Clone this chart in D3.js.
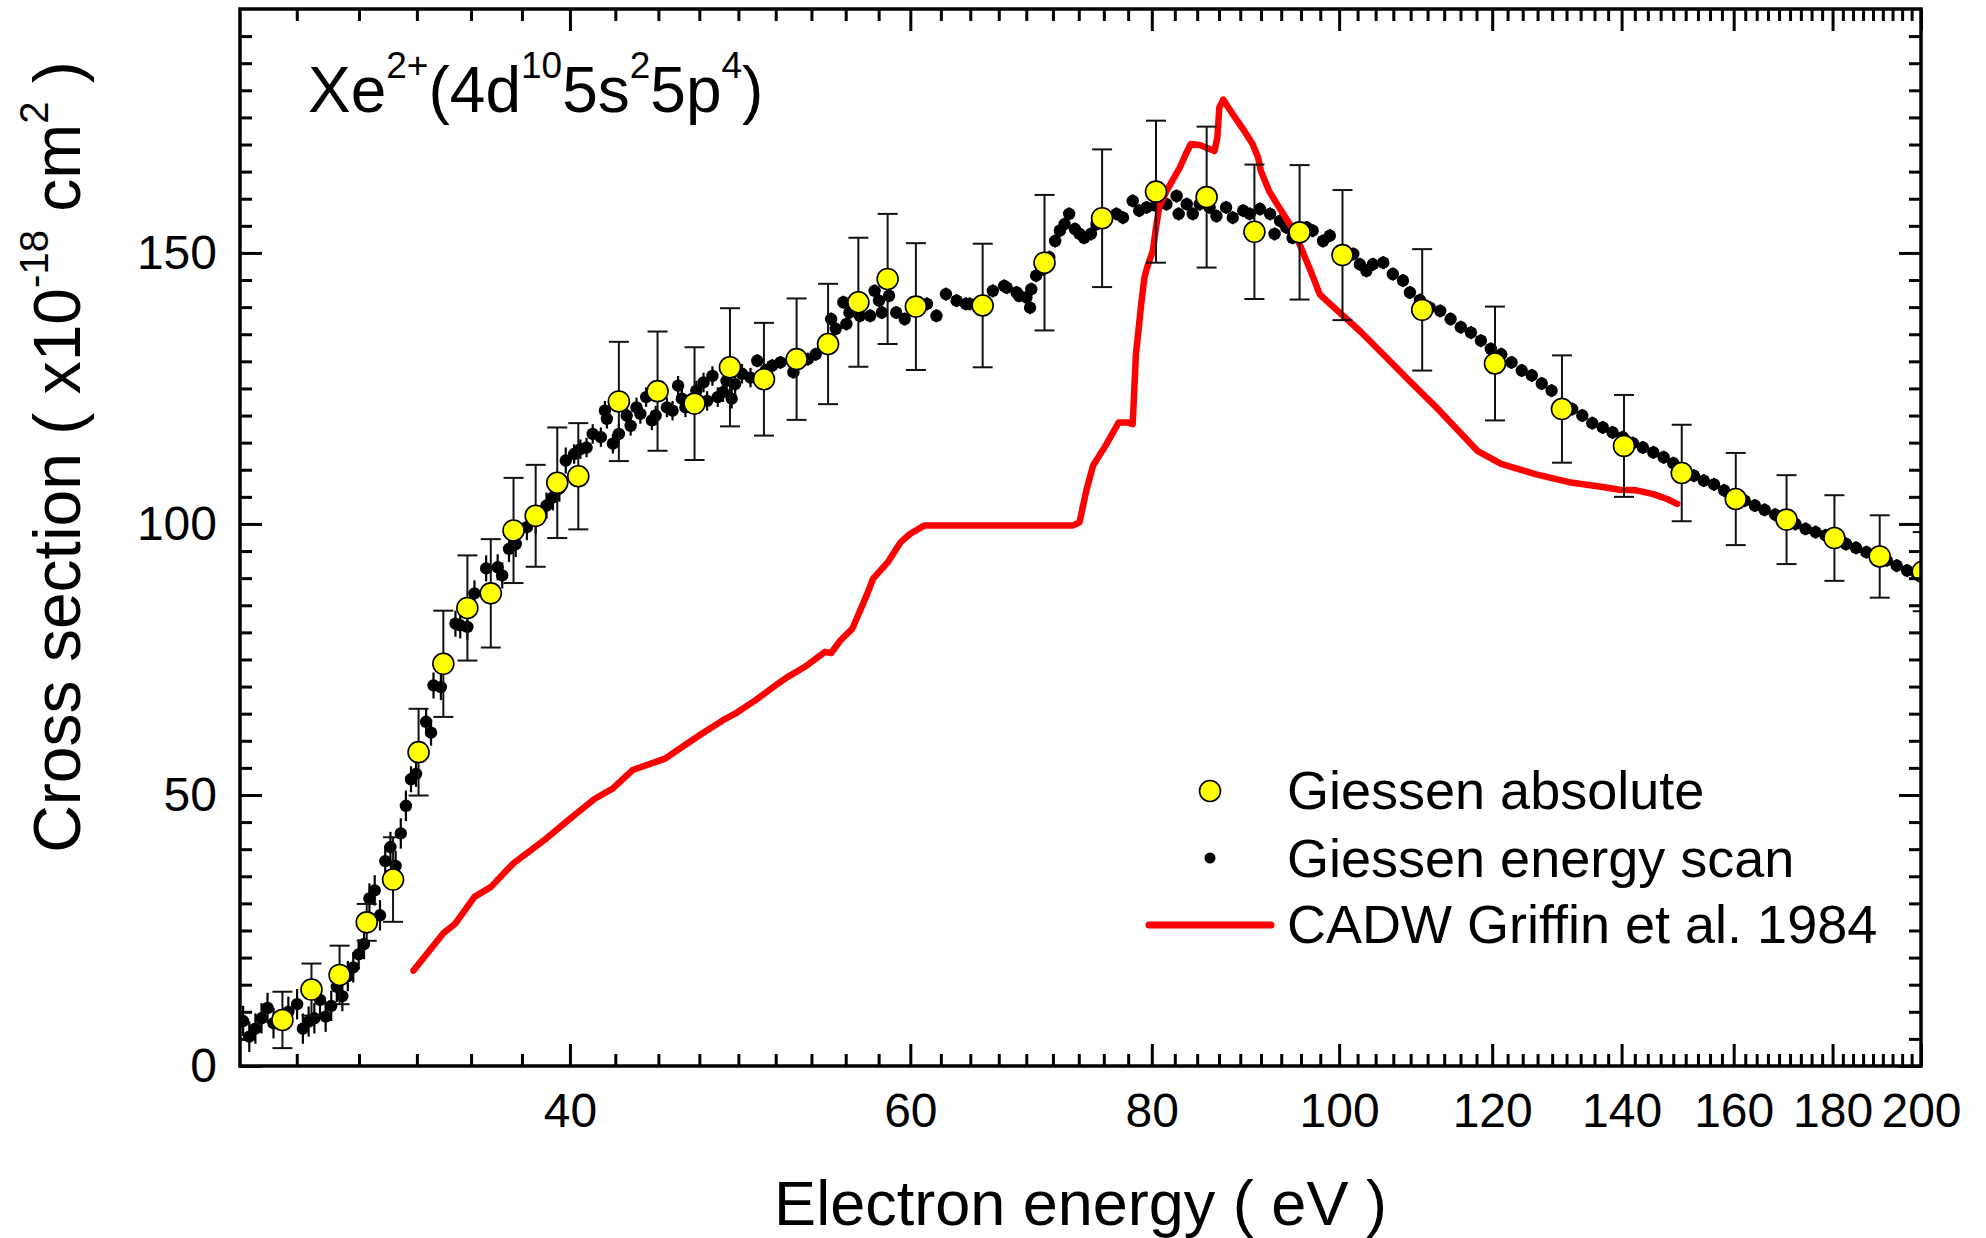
<!DOCTYPE html>
<html><head><meta charset="utf-8">
<script src="https://cdn.jsdelivr.net/npm/d3@7"></script>
<style>
html,body{margin:0;padding:0;background:#fff;}
svg{display:block;}
text{font-family:"Liberation Sans",Arial,Helvetica,sans-serif;fill:#000;}
</style></head><body>
<svg id="chart" width="1986" height="1238"></svg>
<script>
// ---------------- data ----------------
const xDomain = [27, 200];
const yDomain = [0, 195];
const xMajorTicks = [40, 60, 80, 100, 120, 140, 160, 180, 200];
const yMajorTicks = [0, 50, 100, 150];

// Giessen absolute (yellow circles)
const absE = [28.4,29.4,30.4,31.4,32.4,33.4,34.4,35.4,36.4,37.4,38.4,39.4,40.4,
  42.4,44.4,46.4,48.4,50.4,52.4,54.4,56.4,58.4,60.4,
  65.4,70.4,75.4,80.4,85.4,90.4,95.4,100.4,
  110.4,120.4,130.4,140.4,150.4,160.4,170.4,180.4,190.4,200.4];
const absV = [8.5,14.1,16.8,26.5,34.4,57.9,74.2,84.5,87.2,98.8,101.5,107.6,108.8,
  122.6,124.5,122.2,128.9,126.7,130.4,133.2,140.9,145.2,140.1,
  140.3,148.2,156.4,161.3,160.3,153.9,153.8,149.6,
  139.5,129.6,121.2,114.4,109.4,104.6,100.8,97.4,94.0,91.2];
const absErr = [5.2,4.8,5.4,3.4,7.8,8.0,9.8,9.7,10.0,9.7,9.4,10.2,9.8,
  11.0,11.0,10.4,10.9,10.4,11.2,11.1,11.9,12.0,11.7,
  11.4,12.5,12.7,13.1,13.0,12.4,12.4,12.0,
  11.2,10.5,9.9,9.4,8.9,8.5,8.2,7.9,7.6,7.3];

// Giessen energy scan (black dots): [energy, cross section]
const scan = [
 [27.1,8.3],[27.3,5.4],[27.5,6.9],[27.7,8.8],[27.9,10.7],[28.1,7.9],[28.6,10.0],[28.9,11.4],
 [29.1,6.9],[29.3,8.2],[29.5,8.8],[29.7,12.2],[29.9,9.1],[30.1,11.1],[30.3,14.6],[30.5,12.9],
 [30.7,16.6],[30.9,18.2],[31.1,20.6],[31.3,22.5],[31.5,30.9],[31.7,32.4],[31.9,27.8],[32.1,37.8],
 [32.3,40.4],[32.5,36.9],[32.7,42.9],[32.9,48.0],[33.1,52.9],[33.3,53.9],[33.7,63.5],[33.9,61.5],
 [34.0,70.2],[34.3,69.9],[34.9,81.6],[35.1,81.3],[35.4,81.0],[35.7,87.2],[36.2,91.8],[36.7,92.0],
 [36.9,90.5],[37.2,95.4],[37.5,96.3],[38.0,99.4],[38.4,100.6],[38.9,103.4],[39.2,104.9],[39.5,106.5],
 [39.8,111.7],[40.2,112.9],[40.5,113.8],[40.8,114.1],[41.1,116.6],[41.5,116.0],[41.7,120.9],[41.8,119.4],
 [42.1,114.8],[42.4,116.6],[42.8,120.0],[43.0,118.1],[43.3,121.5],[43.5,120.3],[43.8,123.4],[44.1,119.1],
 [44.3,120.0],[44.9,121.5],[45.2,120.9],[45.5,125.5],[45.7,123.1],[45.9,121.5],[46.5,124.6],[46.9,126.1],
 [47.1,122.7],[47.4,127.3],[47.7,123.4],[48.0,124.3],[48.2,126.4],[48.5,123.1],[48.7,125.8],[49.1,127.7],
 [49.6,127.0],[50.0,130.1],[50.5,128.3],[50.9,129.2],[51.4,129.8],[52.2,128.0],[52.6,130.1],[53.1,130.4],
 [53.6,131.3],[54.1,132.6],[54.6,137.8],[54.9,136.0],[55.4,140.9],[55.6,136.9],[55.8,139.0],[56.5,138.4],
 [57.2,138.4],[57.5,143.0],[57.8,141.2],[58.0,139.0],[58.5,142.1],[59.0,139.0],[59.6,137.8],[60.2,140.3],
 [61.2,140.6],[61.9,138.4],[62.6,142.4],[63.4,141.2],[64.1,140.6],[64.4,140.6],[66.2,143.0],[67.1,143.9],
 [67.3,143.6],[68.1,142.7],[68.3,142.1],[68.9,141.8],[69.2,139.9],[69.3,143.3],[69.7,145.8],[70.3,147.0],
 [70.8,149.2],[71.3,152.2],[71.7,154.1],[72.1,155.3],[72.5,157.2],[73.0,154.4],[73.4,153.5],[73.8,152.8],
 [74.4,153.5],[74.9,155.3],[75.8,156.5],[76.7,157.2],[77.3,156.5],[78.2,159.6],[78.8,157.8],[79.5,158.4],
 [80.4,158.7],[81.4,159.0],[82.4,160.5],[82.6,157.2],[83.4,159.0],[84.0,157.2],[84.7,159.0],[85.7,158.4],
 [86.4,156.8],[87.4,158.4],[88.1,156.5],[89.2,157.8],[89.9,157.2],[91.0,158.1],[92.1,157.2],[92.6,153.5],
 [93.2,155.9],[93.9,154.7],[94.6,152.8],[96.2,154.7],[96.9,154.1],[98.1,152.2],[98.9,153.2],[101.7,149.8],
 [102.5,147.9],[103.3,146.7],[104.1,147.9],[105.4,148.2],[106.6,146.1],[107.9,144.9],[108.8,142.7],[110.1,141.3],
 [111.4,139.9],[112.8,139.3],[114.2,137.8],[115.6,136.3],[117.0,135.3],[118.4,133.8],[119.8,132.3],[121.3,131.3],
 [122.8,129.8],[124.3,128.3],[125.8,127.4],[127.3,125.9],[128.8,124.6],[130.4,122.2],[132.0,121.2],[133.6,120.0],
 [135.2,118.6],[136.9,117.8],[138.5,116.9],[140.2,116.0],[141.9,114.9],[143.6,114.1],[145.4,113.2],[147.2,112.3],
 [148.9,111.2],[150.8,109.8],[152.6,108.9],[154.4,108.0],[156.3,107.3],[158.2,106.2],[160.1,105.2],[162.1,104.3],
 [164.1,103.4],[166.0,102.6],[168.1,101.7],[170.1,100.8],[172.2,100.0],[174.3,99.1],[176.4,98.5],[178.5,97.9],
 [180.7,97.1],[182.9,96.3],[185.1,95.6],[187.4,94.8],[189.7,94.2],[192.0,93.3],[194.3,92.3],[196.7,91.4],
 [199.0,90.8]
];
// scan error bar size by energy range: [upper energy, error]
const scanErrTable = [[33,2.8],[40,2.4],[50,1.8],[201,1.2]];

// CADW Griffin et al. 1984 (red line)
const cadwE = [33.2,34.4,34.9,35.7,36.4,37.1,37.4,38.9,39.9,41.2,42.1,43.1,44.8,45.7,46.8,48.0,48.7,49.9,
  51.1,51.8,52.9,54.2,54.6,55.2,56.0,57.0,57.4,58.4,59.3,60.0,61.0,72.8,73.4,74.0,74.6,75.7,76.9,77.8,78.2,
  78.5,79.0,79.3,79.6,80.1,80.4,80.7,81.4,82.7,83.3,83.8,84.7,86.2,86.5,86.7,87.1,88.1,89.2,90.2,90.8,91.1,
  92.0,93.1,94.3,95.4,96.5,97.1,97.7,98.5,102.5,106.6,108.3,112.7,117.9,121.3,126.3,131.5,136.9,139.7,142.5,
  145.4,147.8,149.6];
const cadwV = [17.6,24.5,26.3,31.2,33.0,36.1,37.4,42.0,45.3,49.3,51.2,54.6,56.7,58.8,61.3,63.8,65.0,67.5,
  70.2,71.7,73.6,76.4,76.2,78.5,80.7,87.1,89.9,92.9,96.6,98.2,99.7,99.7,100.3,106.2,110.8,114.4,118.7,118.7,118.4,
  131.3,140.6,145.5,147.6,150.4,154.7,158.4,161.4,165.7,168.2,170.1,169.9,168.8,171.3,176.8,178.3,175.6,172.8,170.1,167.6,165.1,
  161.4,158.4,155.3,151.6,147.3,144.9,142.4,141.2,135.6,129.5,127.0,120.9,113.5,111.1,109.2,107.7,106.8,106.3,106.2,
  105.5,104.6,103.7];

const legendItems = ["Giessen absolute", "Giessen energy scan", "CADW Griffin et al. 1984"];

// ---------------- layout ----------------
const W = 1986, H = 1238;
const M = {left: 240, right: 1921, top: 9, bottom: 1066};
const x = d3.scaleLog().domain(xDomain).range([M.left, M.right]);
const y = d3.scaleLinear().domain(yDomain).range([M.bottom, M.top]);

const svg = d3.select('#chart');
svg.append('rect').attr('width', W).attr('height', H).attr('fill', '#fff');
svg.append('defs').append('clipPath').attr('id', 'clip')
  .append('rect').attr('x', M.left).attr('y', M.top)
  .attr('width', M.right - M.left).attr('height', M.bottom - M.top);

const plot = svg.append('g').attr('clip-path', 'url(#clip)');

// energy scan error bars + dots
const scanErr = e => scanErrTable.find(r => e < r[0])[1];
plot.append('g').selectAll('line').data(scan).join('line')
  .attr('x1', d => x(d[0])).attr('x2', d => x(d[0]))
  .attr('y1', d => y(d[1] - scanErr(d[0]))).attr('y2', d => y(d[1] + scanErr(d[0])))
  .attr('stroke', '#000').attr('stroke-width', 2.2);
plot.append('g').selectAll('circle').data(scan).join('circle')
  .attr('cx', d => x(d[0])).attr('cy', d => y(d[1])).attr('r', 6.2).attr('fill', '#000');

// CADW line
const cadw = cadwE.map((e, i) => [e, cadwV[i]]);
plot.append('path').datum(cadw)
  .attr('d', d3.line().x(d => x(d[0])).y(d => y(d[1])))
  .attr('fill', 'none').attr('stroke', '#ff0000').attr('stroke-width', 6.5)
  .attr('stroke-linejoin', 'round').attr('stroke-linecap', 'round');

// absolute points with error bars
const abs = absE.map((e, i) => ({e, v: absV[i], err: absErr[i]}));
const eb = plot.append('g').attr('stroke', '#111').attr('stroke-width', 2);
abs.forEach(d => {
  const cx = x(d.e), yt = y(d.v + d.err), yb = y(d.v - d.err);
  eb.append('line').attr('x1', cx).attr('x2', cx).attr('y1', yt).attr('y2', yb);
  eb.append('line').attr('x1', cx - 10).attr('x2', cx + 10).attr('y1', yt).attr('y2', yt);
  eb.append('line').attr('x1', cx - 10).attr('x2', cx + 10).attr('y1', yb).attr('y2', yb);
});
plot.append('g').selectAll('circle').data(abs).join('circle')
  .attr('cx', d => x(d.e)).attr('cy', d => y(d.v)).attr('r', 10.5)
  .attr('fill', '#ffff00').attr('stroke', '#000').attr('stroke-width', 1.6);

// ---------------- axes ----------------
const xMinor = [];
const xm = [20].concat(xMajorTicks);
for (let i = 0; i < xm.length - 1; i++) {
  for (let k = 1; k <= 8; k++) {
    const v = xm[i] + k * (xm[i + 1] - xm[i]) / 9;
    if (v > xDomain[0] && v < xDomain[1]) xMinor.push(v);
  }
}
const yMinor = d3.range(5, 195, 5).filter(v => v % 50 !== 0);

function styleAxis(g) {
  g.select('.domain').remove();
  g.selectAll('.tick line').attr('stroke', '#000').attr('stroke-width', 3);
  g.selectAll('.tick text').attr('font-size', 48).attr('fill', '#000')
    .attr('font-family', '"Liberation Sans", Arial, sans-serif');
}
// bottom
svg.append('g').attr('transform', `translate(0,${M.bottom})`)
  .call(d3.axisBottom(x).tickValues(xMajorTicks).tickFormat(d3.format('d')).tickSizeInner(-22).tickSizeOuter(0).tickPadding(27))
  .call(styleAxis);
svg.append('g').attr('transform', `translate(0,${M.bottom})`)
  .call(d3.axisBottom(x).tickValues(xMinor).tickFormat('').tickSize(-12)).call(styleAxis);
// top
svg.append('g').attr('transform', `translate(0,${M.top})`)
  .call(d3.axisTop(x).tickValues(xMajorTicks).tickFormat('').tickSize(-22)).call(styleAxis);
svg.append('g').attr('transform', `translate(0,${M.top})`)
  .call(d3.axisTop(x).tickValues(xMinor).tickFormat('').tickSize(-12)).call(styleAxis);
// left
svg.append('g').attr('transform', `translate(${M.left},0)`)
  .call(d3.axisLeft(y).tickValues(yMajorTicks).tickFormat(d3.format('d')).tickSizeInner(-22).tickSizeOuter(0).tickPadding(23))
  .call(styleAxis);
svg.append('g').attr('transform', `translate(${M.left},0)`)
  .call(d3.axisLeft(y).tickValues(yMinor).tickFormat('').tickSize(-12)).call(styleAxis);
// right
svg.append('g').attr('transform', `translate(${M.right},0)`)
  .call(d3.axisRight(y).tickValues(yMajorTicks).tickFormat('').tickSize(-22)).call(styleAxis);
svg.append('g').attr('transform', `translate(${M.right},0)`)
  .call(d3.axisRight(y).tickValues(yMinor).tickFormat('').tickSize(-12)).call(styleAxis);

// frame
svg.append('rect').attr('x', M.left).attr('y', M.top)
  .attr('width', M.right - M.left).attr('height', M.bottom - M.top)
  .attr('fill', 'none').attr('stroke', '#000').attr('stroke-width', 3.5);

// ---------------- texts ----------------
// x title
svg.append('text').attr('x', (M.left + M.right) / 2).attr('y', 1225)
  .attr('text-anchor', 'middle').attr('font-size', 63).text('Electron energy ( eV )');

// y title
const yt = svg.append('text').attr('transform', 'translate(80,457) rotate(-90)')
  .attr('text-anchor', 'middle').attr('font-size', 66);
yt.append('tspan').text('Cross section ( x10');
yt.append('tspan').attr('dy', -32).attr('font-size', 40).text('-18');
yt.append('tspan').attr('dy', 32).text(' cm');
yt.append('tspan').attr('dy', -32).attr('font-size', 40).text('2');
yt.append('tspan').attr('dy', 32).text(' )');

// annotation
const ann = svg.append('text').attr('x', 308).attr('y', 112).attr('font-size', 64);
const parts = [['Xe', 0], ['2+', 1], ['(4d', 0], ['10', 1], ['5s', 0], ['2', 1], ['5p', 0], ['4', 1], [')', 0]];
let prevSup = 0;
parts.forEach(([t, s]) => {
  const sp = ann.append('tspan').text(t);
  const dy = (s ? -34 : 0) - (prevSup ? -34 : 0);
  if (dy) sp.attr('dy', dy);
  if (s) sp.attr('font-size', 37);
  prevSup = s;
});

// legend
const lg = svg.append('g');
lg.append('circle').attr('cx', 1210).attr('cy', 791).attr('r', 10.5)
  .attr('fill', '#ffff00').attr('stroke', '#000').attr('stroke-width', 1.6);
lg.append('circle').attr('cx', 1210).attr('cy', 858).attr('r', 5.5).attr('fill', '#000');
lg.append('line').attr('x1', 1149).attr('x2', 1271).attr('y1', 925).attr('y2', 925)
  .attr('stroke', '#ff0000').attr('stroke-width', 7).attr('stroke-linecap', 'round');
const legY = [809, 877, 943];
legendItems.forEach((t, i) => {
  lg.append('text').attr('x', 1287).attr('y', legY[i]).attr('font-size', 54).text(t);
});
</script>
</body></html>
